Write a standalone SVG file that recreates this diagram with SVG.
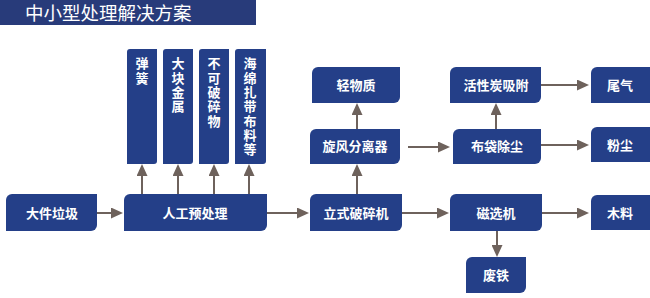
<svg xmlns="http://www.w3.org/2000/svg" width="650" height="298" viewBox="0 0 650 298">
<defs>
<style>
.box{fill:#243f88;}
.t{fill:#fff;font-family:"Noto Sans CJK SC","Noto Sans",sans-serif;font-size:13px;font-weight:bold;text-anchor:middle;}
.v{fill:#fff;font-family:"Noto Sans CJK SC","Noto Sans",sans-serif;font-size:13px;font-weight:bold;writing-mode:vertical-rl;letter-spacing:1.3px;}
.title{fill:#fff;font-family:"Noto Sans CJK SC","Noto Sans",sans-serif;font-size:18.5px;}
.c line{stroke:#6e625c;stroke-width:2;marker-end:url(#ah);}
</style>
<marker id="ah" markerUnits="userSpaceOnUse" markerWidth="12" markerHeight="11" refX="6" refY="5.5" orient="auto">
<path d="M0,0 L12,5.5 L0,11 Z" fill="#6e625c"/>
</marker>
</defs>
<rect width="650" height="298" fill="#fff"/>
<g id="title">
<rect x="0" y="0" width="256" height="25" fill="#283b7a"/>
<text class="title" x="25" y="19.5">中小型处理解决方案</text>
</g>
<g class="c" id="connectors">
<line x1="97" y1="213" x2="117" y2="213"/>
<line x1="267" y1="213" x2="303" y2="213"/>
<line x1="402" y1="213" x2="443" y2="213"/>
<line x1="542" y1="213" x2="583" y2="213"/>
<line x1="497" y1="231" x2="497" y2="251"/>
<line x1="357" y1="194" x2="357" y2="170"/>
<line x1="357" y1="129" x2="357" y2="109"/>
<line x1="408" y1="147" x2="444" y2="147"/>
<line x1="496" y1="129" x2="496" y2="109"/>
<line x1="541" y1="85" x2="583" y2="85"/>
<line x1="541" y1="145" x2="583" y2="145"/>
<line x1="142" y1="194" x2="142" y2="170"/>
<line x1="178" y1="194" x2="178" y2="170"/>
<line x1="214" y1="194" x2="214" y2="170"/>
<line x1="249" y1="194" x2="249" y2="170"/>
</g>
<g id="n-dajian"><path class="box" d="M12,194 H97 V225 A6,6 0 0 1 91,231 H6 V200 A6,6 0 0 1 12,194 Z"/><text class="t" x="52" y="217.5">大件垃圾</text></g>
<g id="n-rengong"><path class="box" d="M130,194 H267 V225 A6,6 0 0 1 261,231 H124 V200 A6,6 0 0 1 130,194 Z"/><text class="t" x="195" y="217.5">人工预处理</text></g>
<g id="n-lishi"><path class="box" d="M316,194 H402 V225 A6,6 0 0 1 396,231 H310 V200 A6,6 0 0 1 316,194 Z"/><text class="t" x="356" y="217.5">立式破碎机</text></g>
<g id="n-cixuan"><path class="box" d="M456,194 H542 V225 A6,6 0 0 1 536,231 H450 V200 A6,6 0 0 1 456,194 Z"/><text class="t" x="496" y="217.5">磁选机</text></g>
<g id="n-muliao"><path class="box" d="M597,195 H650 V230 H591 V201 A6,6 0 0 1 597,195 Z"/><text class="t" x="620" y="217.5">木料</text></g>
<g id="n-feitie"><path class="box" d="M472,257 H526 V287 A6,6 0 0 1 520,293 H466 V263 A6,6 0 0 1 472,257 Z"/><text class="t" x="496" y="279.5">废铁</text></g>
<g id="n-qingwu"><path class="box" d="M318,67 H400 V97 A6,6 0 0 1 394,103 H312 V73 A6,6 0 0 1 318,67 Z"/><text class="t" x="356" y="89.5">轻物质</text></g>
<g id="n-xuanfeng"><path class="box" d="M316,129 H400 V158 A6,6 0 0 1 394,164 H310 V135 A6,6 0 0 1 316,129 Z"/><text class="t" x="355" y="151">旋风分离器</text></g>
<g id="n-huoxing"><path class="box" d="M456,67 H541 V97 A6,6 0 0 1 535,103 H450 V73 A6,6 0 0 1 456,67 Z"/><text class="t" x="496" y="89.5">活性炭吸附</text></g>
<g id="n-budai"><path class="box" d="M459,129 H541 V158 A6,6 0 0 1 535,164 H453 V135 A6,6 0 0 1 459,129 Z"/><text class="t" x="497" y="151">布袋除尘</text></g>
<g id="n-weiqi"><path class="box" d="M597,67 H650 V103 H591 V73 A6,6 0 0 1 597,67 Z"/><text class="t" x="620" y="89.5">尾气</text></g>
<g id="n-fenchen"><path class="box" d="M597,127 H650 V162 H591 V133 A6,6 0 0 1 597,127 Z"/><text class="t" x="620" y="149.5">粉尘</text></g>
<g id="n-tanhuang"><path class="box" d="M130,49 H157 V161 A3,3 0 0 1 154,164 H127 V52 A3,3 0 0 1 130,49 Z"/><text class="v" x="142" y="57">弹簧</text></g>
<g id="n-dakuai"><path class="box" d="M166,49 H193 V161 A3,3 0 0 1 190,164 H163 V52 A3,3 0 0 1 166,49 Z"/><text class="v" x="178" y="57">大块金属</text></g>
<g id="n-bukepo"><path class="box" d="M202,49 H229 V161 A3,3 0 0 1 226,164 H199 V52 A3,3 0 0 1 202,49 Z"/><text class="v" x="214" y="57">不可破碎物</text></g>
<g id="n-haimian"><path class="box" d="M238,49 H266 V161 A3,3 0 0 1 263,164 H235 V52 A3,3 0 0 1 238,49 Z"/><text class="v" x="250" y="57">海绵扎带布料等</text></g>
</svg>
